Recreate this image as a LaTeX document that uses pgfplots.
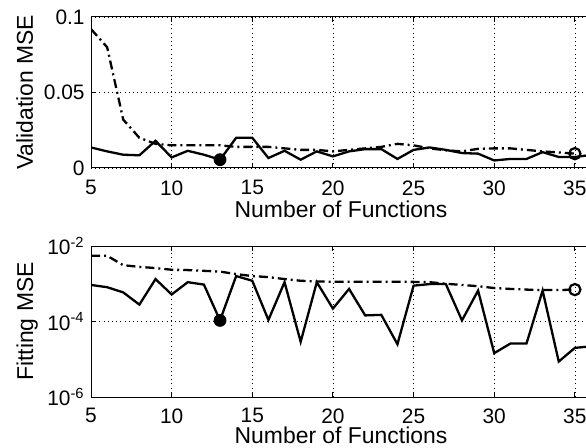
\documentclass[border=0pt]{standalone}
\usepackage{fontspec}
\setmainfont{Liberation Sans}
\usepackage{pgfplots}
\pgfplotsset{compat=1.18}

\newcommand\tf{\fontsize{10.5}{12}\selectfont}

% MATLAB-like panel style
\pgfplotsset{
  mpanel/.style={
    scale only axis, width=250bp, height=75.5bp,
    xmin=5, xmax=36, xtick={5,10,...,35},
    ytick pos=left, xtick pos=both,
    tick align=inside, major tick length=2.5bp,
    axis line style={line width=0.5bp},
    every tick/.style={black, line width=0.5bp},
    grid=major,
    major grid style={black, line width=0.35bp, dash pattern=on 0.5bp off 1.6bp},
    /pgf/number format/assume math mode=true,
    every tick label/.append style={font=\tf},
    xticklabel style={anchor=north, inner sep=0pt},
    yticklabel style={anchor=east, inner sep=0pt, xshift=-3bp},
    xlabel={Number of Functions},
    every axis label/.append style={font=\fontsize{11.5}{13}\selectfont, inner sep=0pt},
    ylabel style={at={(axis description cs:-0.116,0.5)}, anchor=base},
    clip=true,
  },
  solidline/.style={black, line width=1.15bp, no marks},
  dashline/.style={black, line width=1.15bp, no marks, dash pattern=on 4.5bp off 2bp on 1bp off 2bp},
}

\begin{document}
\begin{tikzpicture}
% ---- top: validation error ----
\begin{axis}[mpanel, at={(0,114.5bp)}, anchor=south west,
    ymin=0, ymax=0.1, ytick={0,0.05,0.1}, yticklabels={0,0.05,0.1},
    ylabel={Validation MSE},
    xticklabel style={yshift=-6bp},
    xlabel style={at={(axis description cs:0.5,0)}, anchor=base, yshift=-25bp}]
\addplot[dashline] coordinates {
 (5,0.092) (6,0.080) (7,0.032) (8,0.020) (9,0.016) (10,0.015) (11,0.015)
 (12,0.015) (13,0.015) (14,0.014) (15,0.014) (16,0.014) (17,0.013) (18,0.012)
 (19,0.012) (20,0.011) (21,0.012) (22,0.013) (23,0.014) (24,0.016) (25,0.015)
 (26,0.013) (27,0.0117) (28,0.011) (29,0.0127) (30,0.013) (31,0.013) (32,0.012)
 (33,0.011) (34,0.0103) (35,0.0095)
};
\addplot[solidline] coordinates {
 (5,0.0136) (6,0.011) (7,0.0088) (8,0.0084) (9,0.018) (10,0.007) (11,0.0114)
 (12,0.0088) (13,0.0055) (14,0.020) (15,0.020) (16,0.0066) (17,0.0114) (18,0.0055)
 (19,0.011) (20,0.0077) (21,0.011) (22,0.0125) (23,0.0125) (24,0.006) (25,0.012)
 (26,0.0136) (27,0.012) (28,0.0099) (29,0.0095) (30,0.005) (31,0.006) (32,0.006)
 (33,0.0105) (34,0.0073) (35,0.0073) (36,0.0086)
};
\addplot[only marks, mark=*, mark size=3bp, black] coordinates {(13,0.0055)};
\addplot[only marks, mark=o, mark size=2.8bp, black, line width=1.1bp] coordinates {(35,0.0095)};
\end{axis}

% ---- bottom: fitting error ----
\begin{axis}[mpanel, at={(0,0)}, anchor=south west,
    ymode=log, ymin=1e-6, ymax=1e-2, ytick={1e-6,1e-4,1e-2},
    yticklabels={10\textsuperscript{-6},10\textsuperscript{-4},10\textsuperscript{-2}},
    yminorticks=false, yminorgrids=false,
    ylabel={Fitting MSE},
    xticklabel style={yshift=-5.5bp},
    xlabel style={at={(axis description cs:0.5,0)}, anchor=base, yshift=-23bp}]
\addplot[dashline] coordinates {
 (5,5.5e-3) (6,5.5e-3) (7,3.1e-3) (8,2.8e-3) (9,2.6e-3) (10,2.35e-3) (11,2.3e-3)
 (12,2.2e-3) (13,2.1e-3) (14,1.8e-3) (15,1.6e-3) (16,1.5e-3) (17,1.33e-3) (18,1.2e-3)
 (19,1.15e-3) (20,1.13e-3) (21,1.13e-3) (22,1.13e-3) (23,1.13e-3) (24,1.13e-3)
 (25,1.12e-3) (26,1.1e-3) (27,1.0e-3) (28,9.3e-4) (29,8.6e-4) (30,7.7e-4)
 (31,7.3e-4) (32,7.0e-4) (33,6.8e-4) (34,6.8e-4) (35,7.0e-4)
};
\addplot[solidline] coordinates {
 (5,9.3e-4) (6,8.1e-4) (7,5.9e-4) (8,2.8e-4) (9,1.33e-3) (10,5.2e-4) (11,1.1e-3)
 (12,9.5e-4) (13,1.07e-4) (14,1.6e-3) (15,1.2e-3) (16,1.1e-4) (17,1.1e-3) (18,2.9e-5)
 (19,1.1e-3) (20,2.2e-4) (21,7.3e-4) (22,1.45e-4) (23,1.5e-4) (24,2.5e-5) (25,8.9e-4)
 (26,9.8e-4) (27,9.8e-4) (28,1.07e-4) (29,6.6e-4) (30,1.45e-5) (31,2.6e-5) (32,2.6e-5)
 (33,6.6e-4) (34,8.7e-6) (35,2.0e-5) (36,2.2e-5)
};
\addplot[only marks, mark=*, mark size=3bp, black] coordinates {(13,1.07e-4)};
\addplot[only marks, mark=o, mark size=2.8bp, black, line width=1.1bp] coordinates {(35,7.0e-4)};
\end{axis}

% the reference is cut off just short of the right axis edge
\pgfresetboundingbox
\useasboundingbox (-45.5bp,-25.5bp) rectangle (247.5bp,198.5bp);
\end{tikzpicture}
\end{document}
